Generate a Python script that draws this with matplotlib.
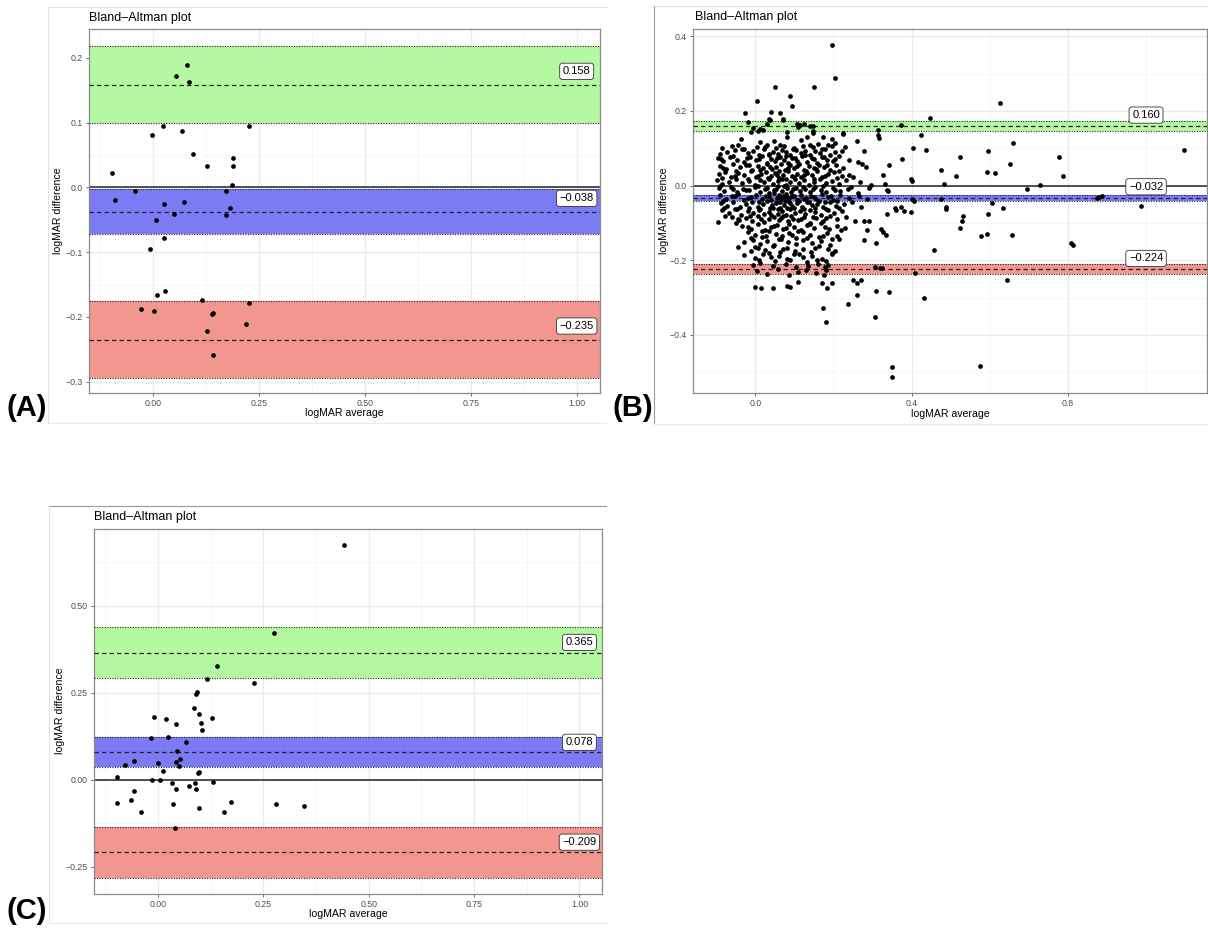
import matplotlib
matplotlib.use("Agg")
import matplotlib.pyplot as plt
from matplotlib.lines import Line2D

plt.rcParams['font.family'] = ['Liberation Sans', 'DejaVu Sans']

# ---------------- data ----------------
# Panel A
a_x = [0.054, 0.080, 0.085, 0.023, 0.228, -0.001, 0.068, 0.094, 0.127, 0.190, 0.188, -0.096,
       0.187, -0.043, -0.089, 0.027, 0.073, 0.172, 0.049, 0.007, 0.172, 0.183, 0.027, -0.006,
       0.011, 0.029, 0.115, 0.228, -0.027, 0.003, 0.143, 0.140, 0.220, 0.127, 0.143]
a_y = [0.172, 0.189, 0.163, 0.095, 0.094, 0.081, 0.087, 0.052, 0.033, 0.046, 0.033, 0.0215,
       0.0035, -0.006, -0.019, -0.025, -0.023, -0.006, -0.041, -0.050, -0.042, -0.032, -0.078, -0.095,
       -0.166, -0.160, -0.1745, -0.178, -0.188, -0.191, -0.1935, -0.196, -0.2105, -0.221, -0.258]
a_mean, a_mean_ci = -0.038, (-0.0725, -0.0028)
a_upper, a_upper_ci = 0.158, (0.099, 0.218)
a_lower, a_lower_ci = -0.235, (-0.294, -0.175)

# Panel B (sparse outer points followed by the dense cluster, read row by row)
b_x_sparse = [0.196, 0.203, 0.151, 0.050, 0.088, 0.093, 0.005, 0.627, -0.026, 0.041, 0.064, 0.070,
              0.447, -0.018, 0.035, 0.372, 0.315, 0.315, 0.317, 0.423, 0.224, 0.261, 0.660, 1.098,
              0.404, 0.437, 0.595, 0.777, 0.523, 0.375, 0.653, 0.342, 0.476, 0.592, 0.613, 0.787,
              0.513, 0.328, 0.398, 0.401, 0.484, 0.729, 0.696, 0.332, 0.336, 0.340, 0.880, 0.887,
              0.875, 0.401, 0.405, 0.476, 0.607, 0.986, 0.488, 0.489, 0.635, 0.357, 0.360, 0.374,
              0.381, 0.399, 0.336, 0.531, 0.596, 0.528, 0.291, 0.279, 0.525, 0.286, 0.321, 0.327,
              0.335, 0.578, 0.594, 0.658, 0.278, 0.309, 0.807, 0.812, 0.457, 0.307, 0.319, 0.324,
              0.409, 0.643, 0.251, 0.259, 0.271, 0.309, 0.341, 0.260, 0.432, 0.236, 0.173, 0.306,
              0.182, 0.351, 0.351, 0.576]
b_y_sparse = [0.377, 0.289, 0.264, 0.264, 0.240, 0.214, 0.227, 0.221, 0.195, 0.196, 0.195, 0.179,
              0.181, 0.170, 0.179, 0.162, 0.148, 0.137, 0.128, 0.135, 0.139, 0.120, 0.114, 0.096,
              0.100, 0.096, 0.094, 0.077, 0.077, 0.071, 0.057, 0.054, 0.043, 0.036, 0.034, 0.026,
              0.027, 0.029, 0.018, 0.013, 0.004, 0.003, -0.010, 0.005, -0.012, -0.014, -0.030, -0.027,
              -0.033, -0.036, -0.041, -0.036, -0.046, -0.054, -0.057, -0.062, -0.060, -0.060, -0.064, -0.057,
              -0.067, -0.071, -0.077, -0.080, -0.077, -0.094, -0.095, -0.095, -0.113, -0.119, -0.117, -0.124,
              -0.131, -0.134, -0.129, -0.132, -0.146, -0.154, -0.154, -0.158, -0.173, -0.218, -0.221, -0.221,
              -0.234, -0.252, -0.253, -0.262, -0.254, -0.283, -0.286, -0.294, -0.300, -0.316, -0.327, -0.351,
              -0.366, -0.486, -0.512, -0.484]
b_x_dense = [
    0.007, -0.012, 0.012, 0.031, 0.080, 0.106, 0.125, 0.140, 0.147, 0.147, 0.148, 0.108, 0.115, 0.038, 0.072, -0.005, 0.020,
    -0.036, 0.225, 0.174, 0.080, 0.131, 0.048, 0.012, 0.140, 0.160, 0.187, 0.203, 0.025, 0.100, -0.045, 0.062, 0.118, 0.195, 0.230,
    -0.090, -0.072, -0.052, -0.035, -0.020, -0.005, 0.010, 0.022, 0.035, 0.046, 0.057, 0.068, 0.079, 0.090, 0.103, 0.116, 0.128,
    0.141, 0.153, 0.166, 0.178, 0.190, 0.205, 0.223, 0.277,
    -0.095, -0.082, -0.064, -0.047, -0.030, -0.013, 0.003, 0.016, 0.029, 0.040, 0.051, 0.062, 0.073, 0.084, 0.095, 0.107, 0.119,
    0.132, 0.145, 0.158, 0.171, 0.184, 0.198, 0.214, 0.240, 0.262,
    -0.090, -0.075, -0.058, -0.040, -0.024, -0.008, 0.006, 0.019, 0.031, 0.043, 0.054, 0.066, 0.077, 0.088, 0.100, 0.112, 0.124,
    0.137, 0.150, 0.163, 0.177, 0.191, 0.206, 0.225, 0.272, 0.283,
    -0.093, -0.078, -0.061, -0.045, -0.028, -0.012, 0.002, 0.015, 0.027, 0.039, 0.050, 0.061, 0.072, 0.083, 0.094, 0.106, 0.118,
    0.131, 0.144, 0.157, 0.171, 0.186, 0.202, 0.222, 0.250,
    -0.097, -0.084, -0.067, -0.050, -0.033, -0.017, -0.002, 0.011, 0.023, 0.035, 0.046, 0.057, 0.068, 0.079, 0.090, 0.101, 0.113,
    0.125, 0.138, 0.151, 0.165, 0.180, 0.196, 0.213, 0.232, 0.268, 0.296,
    -0.094, -0.080, -0.063, -0.047, -0.031, -0.015, 0.000, 0.013, 0.025, 0.036, 0.047, 0.058, 0.069, 0.080, 0.091, 0.103, 0.115,
    0.127, 0.140, 0.153, 0.167, 0.182, 0.198, 0.216, 0.236, 0.262, 0.290,
    -0.090, -0.076, -0.060, -0.044, -0.028, -0.012, 0.003, 0.016, 0.028, 0.040, 0.049, 0.055, 0.061, 0.067, 0.073, 0.079, 0.086,
    0.094, 0.106, 0.118, 0.130, 0.143, 0.156, 0.170, 0.185, 0.200, 0.218, 0.240, 0.265, 0.285,
    -0.088, -0.072, -0.056, -0.040, -0.024, -0.008, 0.006, 0.019, 0.031, 0.043, 0.054, 0.064, 0.074, 0.084, 0.095, 0.107, 0.119,
    0.132, 0.145, 0.159, 0.174, 0.190, 0.207, 0.226, 0.248, 0.270,
    -0.085, -0.068, -0.052, -0.036, -0.020, -0.005, 0.009, 0.022, 0.034, 0.046, 0.057, 0.068, 0.079, 0.090, 0.102, 0.114, 0.127,
    0.140, 0.154, 0.169, 0.185, 0.202, 0.222,
    -0.095, -0.060, -0.042, -0.025, -0.008, 0.007, 0.021, 0.035, 0.048, 0.060, 0.072, 0.084, 0.097, 0.110, 0.124, 0.139, 0.155,
    0.172, 0.190, 0.210, 0.232, 0.255,
    -0.035, -0.010, 0.008, 0.024, 0.040, 0.055, 0.070, 0.085, 0.100, 0.116, 0.132, 0.150, 0.168, 0.188, 0.210, 0.230,
    -0.020, 0.000, 0.018, 0.035, 0.052, 0.068, 0.085, 0.103, 0.122, 0.141, 0.162, 0.184, 0.208,
    -0.030, -0.005, 0.012, 0.030, 0.048, 0.066, 0.084, 0.103, 0.123, 0.145, 0.168, 0.192, 0.215,
    -0.045, -0.012, 0.008, 0.026, 0.045, 0.063, 0.082, 0.101, 0.121, 0.142, 0.163, 0.185, 0.205,
    -0.030, 0.000, 0.020, 0.040, 0.060, 0.080, 0.100, 0.122, 0.145, 0.170, 0.195,
    -0.005, 0.012, 0.045, 0.078, 0.105, 0.135, 0.160, 0.178, 0.185,
    0.005, 0.030, 0.058, 0.085, 0.110, 0.130, 0.155, 0.175, 0.180,
    0.000, 0.015, 0.045, 0.082, 0.090, 0.110, 0.170, 0.183, 0.195,
    # second pass, interleaved rows
    -0.085, -0.060, -0.028, 0.004, 0.030, 0.052, 0.074, 0.096, 0.122, 0.147, 0.171, 0.197,
    -0.088, -0.056, -0.022, 0.009, 0.034, 0.056, 0.078, 0.101, 0.126, 0.151, 0.177, 0.205,
    -0.083, -0.049, -0.016, 0.012, 0.037, 0.060, 0.083, 0.106, 0.130, 0.156, 0.184, 0.215,
    -0.086, -0.053, -0.020, 0.008, 0.033, 0.055, 0.078, 0.100, 0.124, 0.150, 0.178, 0.210, 0.240,
    -0.090, -0.058, -0.025, 0.006, 0.030, 0.052, 0.074, 0.097, 0.121, 0.147, 0.174, 0.205, 0.245,
    -0.083, -0.052, -0.020, 0.009, 0.034, 0.052, 0.058, 0.064, 0.070, 0.076, 0.083, 0.090, 0.100, 0.112, 0.124, 0.137, 0.150,
    0.163, 0.178, 0.193, 0.210,
    -0.080, -0.048, -0.016, 0.013, 0.037, 0.059, 0.080, 0.100, 0.125, 0.152, 0.182, 0.215,
    -0.077, -0.044, -0.013, 0.015, 0.041, 0.066, 0.091, 0.117, 0.147, 0.180,
    -0.050, -0.020, 0.016, 0.048, 0.078, 0.108, 0.141, 0.178, 0.220,
    -0.010, 0.027, 0.060, 0.094, 0.132, 0.173, 0.196,
    0.000, 0.036, 0.072, 0.111, 0.152, 0.195,
    0.010, 0.050, 0.090, 0.133, 0.158, 0.182]
b_y_dense = [
    0.147, 0.144, 0.153, 0.165, 0.144, 0.165, 0.166, 0.161, 0.159, 0.147, 0.141, 0.157, 0.163, 0.177, 0.177, 0.155, 0.150,
    0.126, 0.140, 0.129, 0.129, 0.129, 0.119, 0.117, 0.109, 0.112, 0.108, 0.115, 0.104, 0.102, 0.108, 0.110, 0.121, 0.125, 0.103,
    0.084, 0.089, 0.095, 0.099, 0.088, 0.092, 0.083, 0.097, 0.086, 0.091, 0.085, 0.095, 0.090, 0.083, 0.096, 0.087, 0.092,
    0.081, 0.094, 0.088, 0.097, 0.082, 0.090, 0.093, 0.093,
    0.074, 0.066, 0.078, 0.070, 0.063, 0.076, 0.068, 0.079, 0.061, 0.072, 0.066, 0.078, 0.069, 0.062, 0.075, 0.067, 0.080,
    0.064, 0.073, 0.061, 0.077, 0.070, 0.065, 0.079, 0.068, 0.063,
    0.052, 0.045, 0.058, 0.049, 0.056, 0.042, 0.053, 0.047, 0.059, 0.044, 0.051, 0.057, 0.041, 0.054, 0.048, 0.058, 0.043,
    0.052, 0.046, 0.056, 0.050, 0.041, 0.055, 0.048, 0.058, 0.051,
    0.030, 0.037, 0.024, 0.033, 0.028, 0.038, 0.022, 0.031, 0.036, 0.025, 0.034, 0.021, 0.029, 0.038, 0.026, 0.032, 0.023,
    0.035, 0.028, 0.039, 0.024, 0.031, 0.036, 0.027, 0.022,
    0.015, 0.004, 0.011, 0.018, 0.007, 0.013, 0.002, 0.016, 0.009, 0.019, 0.005, 0.012, 0.017, 0.003, 0.010, 0.018, 0.006,
    0.014, 0.001, 0.011, 0.017, 0.007, 0.013, 0.004, 0.015, 0.010, 0.003,
    -0.006, -0.014, -0.003, -0.018, -0.009, -0.012, -0.004, -0.016, -0.008, -0.019, -0.011, -0.002, -0.015, -0.007, -0.017, -0.005, -0.013,
    -0.010, -0.018, -0.003, -0.012, -0.016, -0.007, -0.014, -0.009, -0.019, -0.006,
    -0.025, -0.036, -0.029, -0.022, -0.038, -0.031, -0.024, -0.035, -0.027, -0.039, -0.021, -0.033, -0.026, -0.037, -0.030, -0.023, -0.034,
    -0.028, -0.039, -0.024, -0.032, -0.027, -0.036, -0.022, -0.031, -0.038, -0.025, -0.033, -0.029, -0.035,
    -0.047, -0.055, -0.043, -0.058, -0.050, -0.044, -0.056, -0.048, -0.041, -0.053, -0.046, -0.059, -0.051, -0.042, -0.054, -0.047, -0.057,
    -0.045, -0.052, -0.049, -0.058, -0.043, -0.055, -0.048, -0.044, -0.056,
    -0.066, -0.074, -0.062, -0.078, -0.069, -0.073, -0.064, -0.077, -0.070, -0.061, -0.075, -0.067, -0.079, -0.063, -0.072, -0.068, -0.076,
    -0.065, -0.071, -0.079, -0.064, -0.074, -0.068,
    -0.097, -0.084, -0.091, -0.087, -0.094, -0.082, -0.098, -0.089, -0.085, -0.093, -0.081, -0.096, -0.088, -0.092, -0.083, -0.099, -0.086,
    -0.094, -0.081, -0.090, -0.085, -0.095,
    -0.108, -0.115, -0.103, -0.118, -0.110, -0.105, -0.117, -0.102, -0.112, -0.119, -0.106, -0.114, -0.101, -0.116, -0.109, -0.113,
    -0.125, -0.133, -0.138, -0.122, -0.130, -0.136, -0.127, -0.139, -0.124, -0.131, -0.137, -0.128, -0.134,
    -0.150, -0.145, -0.156, -0.148, -0.159, -0.143, -0.152, -0.157, -0.146, -0.154, -0.149, -0.158, -0.144,
    -0.163, -0.175, -0.168, -0.172, -0.161, -0.178, -0.166, -0.174, -0.169, -0.177, -0.162, -0.171, -0.176,
    -0.186, -0.195, -0.183, -0.192, -0.188, -0.197, -0.184, -0.191, -0.189, -0.196, -0.182,
    -0.212, -0.208, -0.216, -0.210, -0.219, -0.214, -0.209, -0.218, -0.212,
    -0.228, -0.236, -0.224, -0.238, -0.231, -0.225, -0.233, -0.239, -0.227,
    -0.272, -0.275, -0.273, -0.268, -0.271, -0.258, -0.262, -0.275, -0.260,
    # second pass, interleaved rows
    0.101, 0.106, 0.098, 0.104, 0.108, 0.100, 0.105, 0.099, 0.107, 0.103, 0.098, 0.106,
    0.071, 0.080, 0.075, 0.072, 0.081, 0.074, 0.079, 0.073, 0.082, 0.071, 0.076, 0.072,
    0.047, 0.040, 0.055, 0.043, 0.049, 0.039, 0.046, 0.053, 0.040, 0.044, 0.056, 0.038,
    0.021, 0.027, 0.018, 0.025, 0.020, 0.028, 0.019, 0.024, 0.029, 0.017, 0.026, 0.020, 0.028,
    -0.001, -0.008, -0.011, -0.002, -0.006, -0.009, -0.001, -0.010, -0.004, -0.008, -0.001, -0.011, -0.003,
    -0.041, -0.028, -0.033, -0.044, -0.027, -0.043, -0.030, -0.045, -0.028, -0.041, -0.032, -0.046, -0.029, -0.042, -0.035, -0.044, -0.030,
    -0.040, -0.045, -0.028, -0.042,
    -0.060, -0.062, -0.059, -0.063, -0.060, -0.062, -0.059, -0.061, -0.063, -0.060, -0.062, -0.059,
    -0.080, -0.088, -0.082, -0.090, -0.079, -0.086, -0.081, -0.089, -0.083, -0.087,
    -0.100, -0.110, -0.121, -0.107, -0.114, -0.122, -0.104, -0.111, -0.120,
    -0.141, -0.136, -0.142, -0.133, -0.140, -0.135, -0.142,
    -0.165, -0.181, -0.170, -0.183, -0.168, -0.180,
    -0.200, -0.203, -0.199, -0.205, -0.198, -0.202]
b_mean, b_mean_ci = -0.032, (-0.040, -0.025)
b_upper, b_upper_ci = 0.160, (0.147, 0.173)
b_lower, b_lower_ci = -0.224, (-0.237, -0.211)

# Panel C
c_x = [0.442, 0.275, 0.140, 0.116, 0.227, 0.090, 0.093, 0.086, 0.097, -0.010, 0.020, 0.129,
       0.103, 0.042, 0.104, -0.016, 0.025, 0.067, 0.046, -0.079, -0.056, 0.001, 0.043, 0.052,
       0.049, 0.013, 0.095, 0.098, -0.098, -0.014, 0.006, 0.034, 0.089, 0.131, 0.074, 0.091,
       0.043, -0.056, -0.063, -0.096, 0.037, 0.173, 0.279, 0.346, 0.098, -0.040, 0.158, 0.041]
c_y = [0.674, 0.421, 0.326, 0.289, 0.276, 0.247, 0.252, 0.205, 0.187, 0.179, 0.173, 0.176,
       0.163, 0.159, 0.141, 0.118, 0.123, 0.107, 0.081, 0.041, 0.054, 0.047, 0.050, 0.060,
       0.039, 0.024, 0.020, 0.021, 0.006, 0.000, -0.002, -0.011, -0.011, -0.008, -0.020, -0.027,
       -0.028, -0.032, -0.058, -0.067, -0.070, -0.066, -0.071, -0.076, -0.083, -0.093, -0.093, -0.138]
c_mean, c_mean_ci = 0.078, (0.0355, 0.121)
c_upper, c_upper_ci = 0.365, (0.2915, 0.439)
c_lower, c_lower_ci = -0.209, (-0.282, -0.136)

panel_letters = ["(A)", "(B)", "(C)"]
title_text = "Bland\u2013Altman plot"
x_title = "logMAR average"
y_title = "logMAR difference"

# ---------------- drawing ----------------
W, H = 1208, 933
fig = plt.figure(figsize=(W / 100, H / 100), dpi=100)

GREEN, BLUE, RED = "#b5f8a2", "#7b7bf5", "#f29690"


def add_ax(x0, y0, x1, y1):
    return fig.add_axes([x0 / W, 1 - y1 / H, (x1 - x0) / W, (y1 - y0) / H])


def fmt(v, nd):
    s = f"{v:.{nd}f}"
    return s.replace("-", "\u2212")


def draw_panel(ax, x, y, mean, mean_ci, upper, upper_ci, lower, lower_ci,
               xlim, ylim, xmaj, xmin, ymaj, ymin, xnd, ynd, label_dy):
    ax.set_xlim(xlim)
    ax.set_ylim(ylim)
    for v in xmin:
        ax.axvline(v, color="#f4f4f4", lw=0.6, zorder=0)
    for v in ymin:
        ax.axhline(v, color="#f4f4f4", lw=0.6, zorder=0)
    for v in xmaj:
        ax.axvline(v, color="#ebebeb", lw=1.0, zorder=0)
    for v in ymaj:
        ax.axhline(v, color="#ebebeb", lw=1.0, zorder=0)
    ax.axhline(0, color="#222222", lw=1.1, zorder=1)
    for (lo, hi), val, col in ((upper_ci, upper, GREEN), (mean_ci, mean, BLUE), (lower_ci, lower, RED)):
        ax.axhspan(lo, hi, color=col, lw=0, zorder=2)
        ax.axhline(lo, color="#222222", lw=0.8, ls=(0, (1, 1.3)), zorder=3)
        ax.axhline(hi, color="#222222", lw=0.8, ls=(0, (1, 1.3)), zorder=3)
        ax.axhline(val, color="#222222", lw=0.9, ls=(0, (3.5, 2.5)), zorder=3)
    ax.plot(x, y, "o", ms=3.4, color="black", mec="black", mew=0, zorder=5)
    for val in (upper, mean, lower):
        ax.text(1.0, val + label_dy, fmt(val, 3), ha="center", va="center", fontsize=8,
                color="black", zorder=6,
                bbox=dict(boxstyle="round,pad=0.28,rounding_size=0.25", fc="white", ec="#333333", lw=0.6))
    ax.set_xticks(xmaj)
    ax.set_xticklabels([fmt(v, xnd) for v in xmaj])
    ax.set_yticks(ymaj)
    ax.set_yticklabels([fmt(v, ynd) for v in ymaj])
    ax.tick_params(length=2.5, width=0.6, color="#555555", labelsize=6.3, labelcolor="#4d4d4d", pad=1.8)
    for sp in ax.spines.values():
        sp.set_color("#8a8a8a")
        sp.set_linewidth(0.9)
    ax.set_facecolor("white")


# panel A
axA = add_ax(89, 29, 600, 393)
draw_panel(axA, a_x, a_y, a_mean, a_mean_ci, a_upper, a_upper_ci, a_lower, a_lower_ci,
           (-0.1506, 1.055), (-0.3174, 0.2443),
           [0.0, 0.25, 0.5, 0.75, 1.0], [-0.125, 0.125, 0.375, 0.625, 0.875],
           [-0.3, -0.2, -0.1, 0.0, 0.1, 0.2], [-0.25, -0.15, -0.05, 0.05, 0.15],
           2, 1, 0.021)

# panel B
axB = add_ax(693, 29, 1207, 393)
draw_panel(axB, b_x_sparse + b_x_dense, b_y_sparse + b_y_dense, b_mean, b_mean_ci, b_upper, b_upper_ci,
           b_lower, b_lower_ci,
           (-0.1595, 1.156), (-0.5554, 0.4196),
           [0.0, 0.4, 0.8], [-0.2, 0.2, 0.6, 1.0],
           [-0.4, -0.2, 0.0, 0.2, 0.4], [-0.5, -0.3, -0.1, 0.1, 0.3],
           1, 1, 0.029)

# panel C
axC = add_ax(94, 529, 602, 894)
draw_panel(axC, c_x, c_y, c_mean, c_mean_ci, c_upper, c_upper_ci, c_lower, c_lower_ci,
           (-0.1516, 1.0536), (-0.329, 0.720),
           [0.0, 0.25, 0.5, 0.75, 1.0], [-0.125, 0.125, 0.375, 0.625, 0.875],
           [-0.25, 0.0, 0.25, 0.5], [-0.125, 0.125, 0.375, 0.625],
           2, 2, 0.029)

# titles and axis titles
for px, py in ((89, 18), (695, 17), (94, 517)):
    fig.text(px / W, 1 - py / H, title_text, ha="left", va="center", fontsize=9, color="black")
for cx, py in ((344.5, 413), (950, 414), (348, 914)):
    fig.text(cx / W, 1 - py / H, x_title, ha="center", va="center", fontsize=7.6, color="black")
for px, cy in ((58, 211), (664, 211), (60, 711)):
    fig.text(px / W, 1 - cy / H, y_title, ha="center", va="center", rotation=90, fontsize=7.6, color="black")

# panel frames (outer borders of each sub-figure)
def hline(x0, x1, y, c):
    fig.add_artist(Line2D([x0 / W, x1 / W], [1 - y / H, 1 - y / H], color=c, lw=0.8))


def vline(x, y0, y1, c):
    fig.add_artist(Line2D([x / W, x / W], [1 - y0 / H, 1 - y1 / H], color=c, lw=0.8))


hline(48, 606, 7, "#e2e2e2"); vline(48, 7, 423, "#e2e2e2"); hline(48, 606, 423, "#ececec")
hline(654, 1208, 6, "#e2e2e2"); vline(654, 6, 424, "#9a9a9a"); hline(654, 1208, 424, "#ececec")
hline(49, 606, 506, "#9a9a9a"); vline(49, 506, 923, "#e2e2e2"); hline(49, 606, 923, "#ececec")

# panel letters
for lab, px, py in zip(panel_letters, (7, 612, 7), (408, 408, 911)):
    fig.text(px / W, 1 - py / H, lab, ha="left", va="center", fontsize=21, fontweight="bold", color="black")

fig.savefig("out.png", dpi=100, facecolor="white")
